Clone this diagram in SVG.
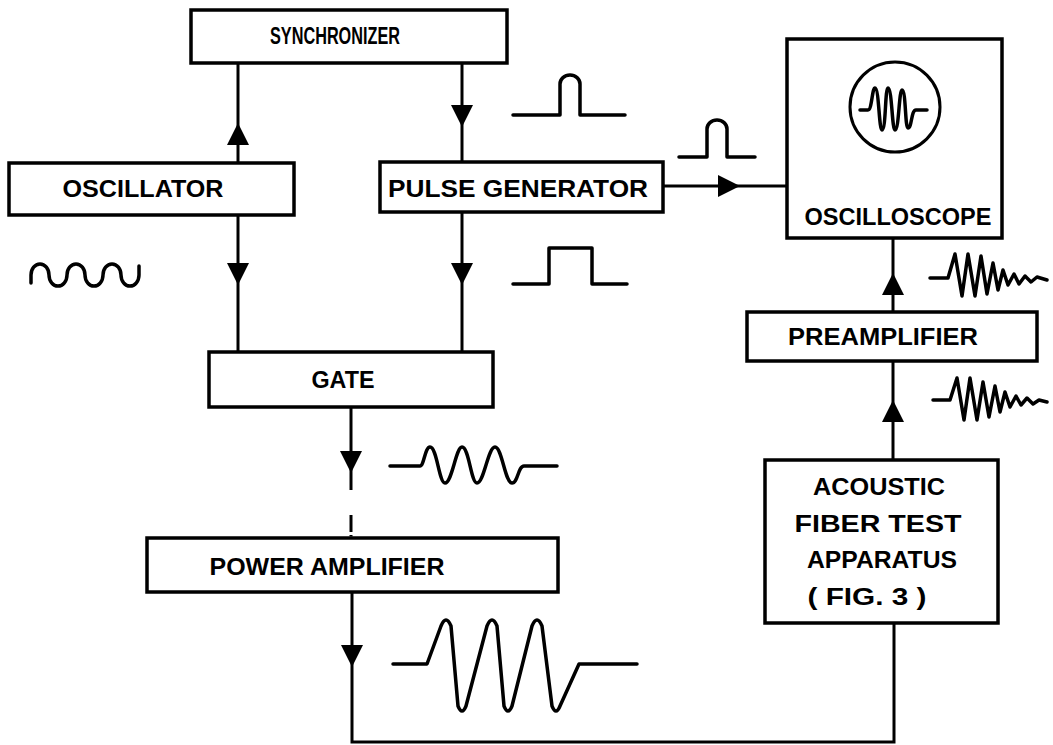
<svg xmlns="http://www.w3.org/2000/svg" width="1053" height="745" viewBox="0 0 1053 745">
<style>
.box{fill:#fff;stroke:#000;stroke-width:3.5}
.lbl{font-family:"Liberation Sans",Arial,sans-serif;font-weight:bold;font-size:24px;fill:#000;text-anchor:middle}
.ln{fill:none;stroke:#000;stroke-width:3}
.wv{fill:none;stroke:#000;stroke-width:3.5;stroke-linejoin:round;stroke-linecap:round}
</style>
<defs>
<marker id="arr" markerUnits="userSpaceOnUse" markerWidth="24" markerHeight="24" viewBox="0 0 24 24" refX="22" refY="12" orient="auto">
<path d="M0,1 L22,12 L0,23 z" fill="#000"/>
</marker>
</defs>
<rect width="1053" height="745" fill="#fff"/>
<g id="connectors">
<path class="ln" d="M238,163 V123" marker-end="url(#arr)"/>
<path class="ln" d="M238,123 V63"/>
<path class="ln" d="M462,63 V127" marker-end="url(#arr)"/>
<path class="ln" d="M462,127 V163"/>
<path class="ln" d="M238,215 V285" marker-end="url(#arr)"/>
<path class="ln" d="M238,285 V352"/>
<path class="ln" d="M462,210 V285" marker-end="url(#arr)"/>
<path class="ln" d="M462,285 V352"/>
<path class="ln" d="M663,186 H740" marker-end="url(#arr)"/>
<path class="ln" d="M740,186 H787"/>
<path class="ln" d="M351,407 V473" marker-end="url(#arr)"/>
<path class="ln" d="M351,473 V490"/>
<path class="ln" d="M351,515 V532" stroke-width="2"/>
<path class="ln" d="M351,535 V540" stroke-width="1.5" stroke-dasharray="1.5 1.5"/>
<path class="ln" d="M352,592 V667" marker-end="url(#arr)"/>
<path class="ln" d="M352,667 V742 H894 V623"/>
<path class="ln" d="M893,460 V400" marker-end="url(#arr)"/>
<path class="ln" d="M893,400 V362"/>
<path class="ln" d="M893,312 V273" marker-end="url(#arr)"/>
<path class="ln" d="M893,273 V238"/>
</g>
<g id="synchronizer">
<rect class="box" x="191" y="10" width="316" height="53"/>
<text class="lbl" x="335" y="44" font-size="22" textLength="130" lengthAdjust="spacingAndGlyphs">SYNCHRONIZER</text>
</g>
<g id="oscillator">
<rect class="box" x="9" y="163" width="285" height="52"/>
<text class="lbl" x="143" y="197" textLength="161" lengthAdjust="spacingAndGlyphs">OSCILLATOR</text>
</g>
<g id="pulse-generator">
<rect class="box" x="380" y="162" width="283" height="50"/>
<text class="lbl" x="518" y="197" textLength="260" lengthAdjust="spacingAndGlyphs">PULSE GENERATOR</text>
</g>
<g id="oscilloscope">
<rect class="box" x="787" y="39" width="215" height="199"/>
<circle cx="895" cy="107" r="45" fill="none" stroke="#000" stroke-width="3"/>
<path class="wv" stroke-width="4" d="M860,110 H868 C872,110 872,88 875,88 C879,88 879,130 882,130 C886,130 885,88 888,88 C892,88 892,130 895,130 C899,130 899,90 902,90 C906,90 905,128 908,128 C912,128 911,110 916,110 H927"/>
<text class="lbl" x="898" y="225" textLength="187" lengthAdjust="spacingAndGlyphs">OSCILLOSCOPE</text>
</g>
<g id="gate">
<rect class="box" x="209" y="352" width="284" height="55"/>
<text class="lbl" x="343" y="388" textLength="63" lengthAdjust="spacingAndGlyphs">GATE</text>
</g>
<g id="power-amplifier">
<rect class="box" x="147" y="538" width="411" height="54"/>
<text class="lbl" x="327" y="575" textLength="235" lengthAdjust="spacingAndGlyphs">POWER AMPLIFIER</text>
</g>
<g id="preamplifier">
<rect class="box" x="747" y="312" width="290" height="49"/>
<text class="lbl" x="883" y="345" textLength="190" lengthAdjust="spacingAndGlyphs">PREAMPLIFIER</text>
</g>
<g id="acoustic-fiber-test-apparatus">
<rect class="box" x="765" y="460" width="233" height="163"/>
<text class="lbl" x="879" y="495" textLength="132" lengthAdjust="spacingAndGlyphs">ACOUSTIC</text>
<text class="lbl" x="878" y="532" textLength="167" lengthAdjust="spacingAndGlyphs">FIBER TEST</text>
<text class="lbl" x="882" y="568" textLength="150" lengthAdjust="spacingAndGlyphs">APPARATUS</text>
<text class="lbl" x="867" y="605" textLength="119" lengthAdjust="spacingAndGlyphs">( FIG. 3 )</text>
</g>
<g id="waveforms">
<path class="wv" d="M31,283 V275 A9,11 0 0 1 49,275 A9,11 0 0 0 67,275 A9,11 0 0 1 85,275 A9,11 0 0 0 103,275 A9,11 0 0 1 121,275 A9,11 0 0 0 139,275 V266"/>
<path class="wv" d="M513,115 H560 V84 A10,9 0 0 1 580,84 V115 H625"/>
<path class="wv" d="M679,157 H707 V129 A10,9 0 0 1 727,129 V157 H755"/>
<path class="wv" d="M513,284 H549 V248 H592 V284 H627"/>
<path class="wv" d="M390,466 H420 C424,466 425,447 430,447 C437,447 439,483 445,483 C452,483 456,447 462,447 C469,447 471,483 477,483 C484,483 488,447 495,447 C502,447 505,483 512,483 C518,483 518,466 524,466 H557"/>
<path class="wv" d="M393,664 H427 L441,626 Q446,614 451,626 L458,706 Q462,716 466,706 L487,626 Q492,614 497,626 L504,706 Q508,716 512,706 L532,626 Q537,614 542,626 L552,706 Q556,716 560,706 L579,664 H637"/>
<path class="wv" d="M930,278 H948 L955,254 L962,296 L968,254 L975,296 L981,256 L987,294 L993,263 L998,290 L1003,270 L1008,285 L1014,274 L1019,284 L1025,276 L1031,282 L1037,277 L1047,280"/>
<path class="wv" d="M933,400 H950 L957,378 L964,420 L970,378 L977,420 L983,382 L989,417 L995,386 L1000,412 L1005,392 L1010,407 L1016,396 L1021,405 L1027,398 L1033,404 L1039,400 L1047,402"/>
</g>
</svg>
